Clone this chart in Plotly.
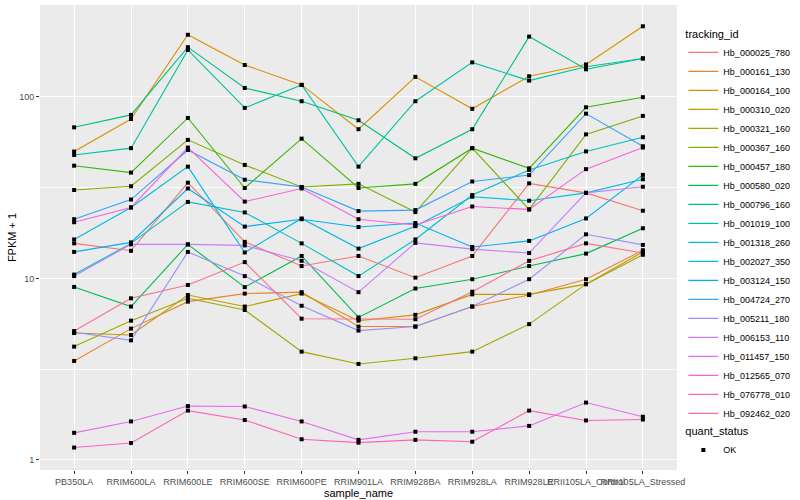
import plotly.graph_objects as go

samples = ["PB350LA", "RRIM600LA", "RRIM600LE", "RRIM600SE", "RRIM600PE", "RRIM901LA",
           "RRIM928BA", "RRIM928LA", "RRIM928LE", "RRII105LA_Control", "RRII105LA_Stressed"]

hb_000025_780 = [15.6, 14.2, 33.7, 15.9, 11.7, 13.3, 10.1, 13.3, 33.4, 29.6, 23.6]
hb_000161_130 = [3.51, 5.29, 7.45, 8.25, 8.4, 5.43, 5.43, 7.0, 8.1, 9.9, 14.3]
hb_000164_100 = [50.0, 75.6, 220, 150, 116.5, 66.4, 129, 86, 130, 151, 245]
hb_000310_020 = [5.0, 4.88, 8.1, 7.0, 8.25, 5.85, 6.3, 8.17, 8.17, 9.3, 14.0]
hb_000321_160 = [4.21, 5.85, 7.77, 6.7, 3.95, 3.38, 3.63, 3.95, 5.6, 9.3, 13.5]
hb_000367_160 = [30.7, 32.2, 58, 42.2, 31.9, 33.2, 23.2, 52.2, 24.0, 62.2, 78.6]
hb_000457_180 = [41.8, 38.3, 76.6, 31.5, 58.9, 31.5, 33.2, 52.2, 40.4, 87.7, 99.7]
hb_000580_020 = [8.98, 7.0, 15.4, 8.95, 13.3, 6.1, 8.8, 9.9, 11.7, 13.7, 18.9]
hb_000796_160 = [68, 79.6, 188, 112, 94.7, 74.4, 45.9, 66.4, 215, 142, 163]
hb_001019_100 = [47.9, 52.2, 181.5, 87, 116.5, 41.3, 94.7, 155, 123, 146.5, 163]
hb_001318_260 = [10.5, 15.6, 26.4, 23.1, 15.6, 10.3, 16.4, 28.8, 39.6, 50.1, 60]
hb_002027_350 = [16.4, 24.6, 41.3, 13.9, 21.4, 14.6, 19.4, 28.2, 26.8, 29.6, 35.2]
hb_003124_150 = [14.0, 15.8, 31.3, 19.3, 21.2, 19.2, 20.2, 14.9, 16.1, 21.4, 37.2]
hb_004724_270 = [21.2, 27.2, 51, 35, 31.9, 23.5, 23.8, 34.2, 37.1, 80.9, 53.5]
hb_005211_180 = [5.05, 4.56, 14.0, 10.3, 7.07, 5.16, 5.43, 7.0, 9.9, 17.5, 15.3]
hb_006153_110 = [10.3, 15.4, 15.4, 15.2, 12.5, 8.4, 15.7, 14.5, 13.8, 29.6, 32.0]
hb_011457_150 = [1.41, 1.63, 1.98, 1.97, 1.63, 1.29, 1.43, 1.43, 1.54, 2.07, 1.73]
hb_012565_070 = [20.4, 24.6, 52.6, 26.5, 31.3, 21.2, 19.7, 24.9, 24.0, 40, 52.6]
hb_076778_010 = [1.17, 1.24, 1.87, 1.66, 1.30, 1.245, 1.29, 1.26, 1.87, 1.65, 1.67]
hb_092462_020 = [5.13, 7.77, 9.2, 12.3, 6.0, 5.96, 5.96, 8.45, 12.5, 15.6, 13.8]

tracking_ids = ["Hb_000025_780", "Hb_000161_130", "Hb_000164_100", "Hb_000310_020",
                "Hb_000321_160", "Hb_000367_160", "Hb_000457_180", "Hb_000580_020",
                "Hb_000796_160", "Hb_001019_100", "Hb_001318_260", "Hb_002027_350",
                "Hb_003124_150", "Hb_004724_270", "Hb_005211_180", "Hb_006153_110",
                "Hb_011457_150", "Hb_012565_070", "Hb_076778_010", "Hb_092462_020"]

series_values = [hb_000025_780, hb_000161_130, hb_000164_100, hb_000310_020,
                 hb_000321_160, hb_000367_160, hb_000457_180, hb_000580_020,
                 hb_000796_160, hb_001019_100, hb_001318_260, hb_002027_350,
                 hb_003124_150, hb_004724_270, hb_005211_180, hb_006153_110,
                 hb_011457_150, hb_012565_070, hb_076778_010, hb_092462_020]

colors = ["#F8766D", "#EA8331", "#D89000", "#C09B00", "#A3A500", "#7CAE00", "#39B600",
          "#00BB4E", "#00BF7D", "#00C1A3", "#00BFC4", "#00BAE0", "#00B0F6", "#35A2FF",
          "#9590FF", "#C77CFF", "#E76BF3", "#FA62DB", "#FF62BC", "#FF6C91"]

fig = go.Figure()
for name, vals, col in zip(tracking_ids, series_values, colors):
    fig.add_trace(go.Scatter(x=samples, y=vals, mode="lines", name=name,
                             line=dict(color=col, width=1.1), legend="legend"))

all_x = [s for vals in series_values for s in samples]
all_y = [v for vals in series_values for v in vals]
fig.add_trace(go.Scatter(x=all_x, y=all_y, mode="markers", name="OK",
                         marker=dict(symbol="square", color="black", size=4),
                         legend="legend2"))

fig.update_layout(
    width=800, height=500,
    margin=dict(l=40, r=116, t=5, b=30),
    plot_bgcolor="#EBEBEB", paper_bgcolor="white",
    font=dict(family="Liberation Sans", color="black", size=11),
    xaxis=dict(type="category", range=[-0.6, 10.6], showgrid=True, gridcolor="white",
               gridwidth=1.1, ticks="outside", ticklen=3, tickcolor="#333333",
               tickangle=0, tickfont=dict(size=9, color="#4D4D4D"),
               title=dict(text="sample_name", font=dict(size=11), standoff=0),
               zeroline=False, showline=False),
    yaxis=dict(type="log", range=[-0.0555, 2.5065], tickvals=[1, 10, 100],
               ticktext=["1", "10", "100"], showgrid=True, gridcolor="white", gridwidth=1.1,
               ticks="outside", ticklen=3, tickcolor="#333333",
               tickfont=dict(size=9, color="#4D4D4D"),
               title=dict(text="FPKM + 1", font=dict(size=11), standoff=0),
               minor=dict(tickvals=[3.1623, 31.623], showgrid=True, gridcolor="white",
                          gridwidth=0.55, ticks=""),
               zeroline=False, showline=False),
    legend=dict(title=dict(text="tracking_id", font=dict(size=11)),
                x=1.01, y=0.96, xanchor="left", yanchor="top",
                font=dict(size=9), bgcolor="rgba(0,0,0,0)", tracegroupgap=0),
    legend2=dict(title=dict(text="quant_status", font=dict(size=11)),
                 x=1.01, y=0.105, xanchor="left", yanchor="top",
                 font=dict(size=9), bgcolor="rgba(0,0,0,0)"),
)

fig.write_html("out.html", config={"displayModeBar": False},
               post_script="document.body.style.margin='0';")
